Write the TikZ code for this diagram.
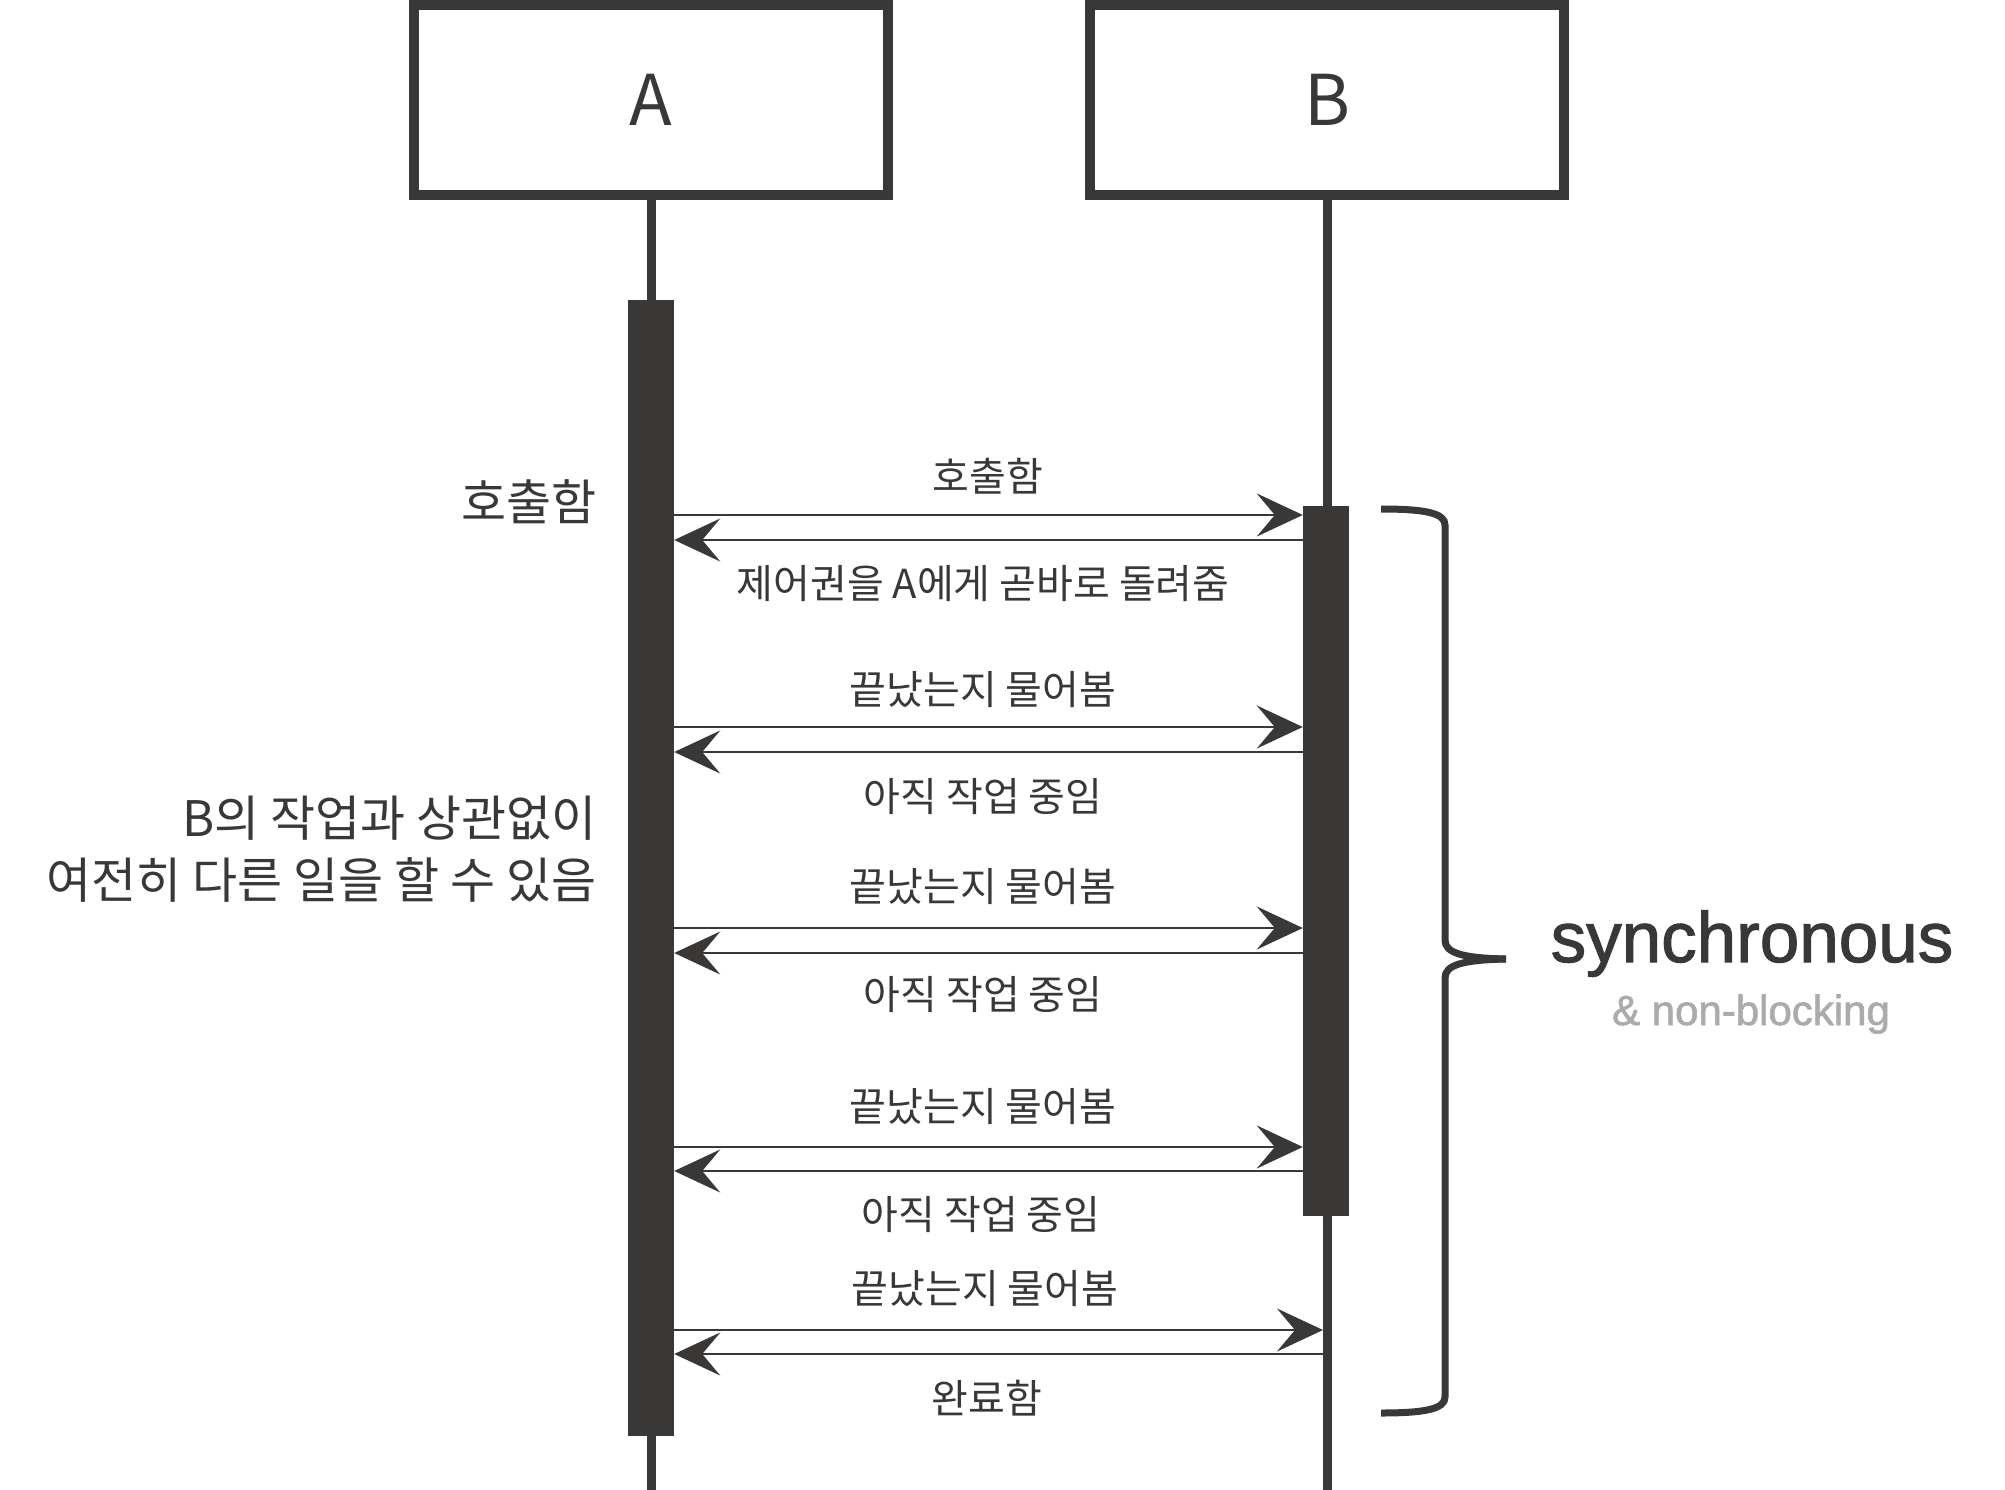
\documentclass[tikz,border=0pt]{standalone}
\usepackage{fontspec}
\setmainfont{Noto Sans CJK KR}
\newfontfamily\latinfont{Liberation Sans}[FakeBold=1.6]
\usetikzlibrary{arrows.meta}
\definecolor{ink}{RGB}{58,56,54}
\definecolor{soft}{RGB}{172,170,170}
\begin{document}
\begin{tikzpicture}[x=1pt,y=-1pt,
  actor/.style={draw=ink, line width=10pt, minimum width=474pt, minimum height=190pt, inner sep=0pt, text=ink, font=\fontsize{70}{80}\selectfont},
  life/.style={draw=ink, line width=9pt},
  bar/.style={fill=ink, draw=none, minimum width=46pt, inner sep=0pt},
  msg/.style={draw=ink, line width=2.5pt, -{Stealth[length=46pt,width=43pt,inset=18pt]}},
  lbl/.style={text=ink, inner sep=0pt, font=\fontsize{40}{46}\selectfont},
  side/.style={text=ink, inner sep=0pt, align=right, anchor=east, font=\fontsize{49}{62}\selectfont},
]
\useasboundingbox (0,0) rectangle (2005,1490);
% lifelines
\coordinate (Aend) at (651,1490);
\coordinate (Bend) at (1327,1490);
\node[actor] (A) at (651,100) {A};
\node[actor] (B) at (1327,100) {B};
\draw[life] (A.south) -- (Aend);
\draw[life] (B.south) -- (Bend);
% activation bars
\node[bar, minimum height=1136pt] (barA) at (651,868) {};
\node[bar, minimum height=710pt] (barB) at (1326,861) {};
% messages
\draw[msg] (barA.east |- 0,515) -- (barB.west |- 0,515);
\draw[msg] (barB.west |- 0,540) -- (barA.east |- 0,540);
\draw[msg] (barA.east |- 0,727) -- (barB.west |- 0,727);
\draw[msg] (barB.west |- 0,752) -- (barA.east |- 0,752);
\draw[msg] (barA.east |- 0,928) -- (barB.west |- 0,928);
\draw[msg] (barB.west |- 0,953) -- (barA.east |- 0,953);
\draw[msg] (barA.east |- 0,1147) -- (barB.west |- 0,1147);
\draw[msg] (barB.west |- 0,1171) -- (barA.east |- 0,1171);
\coordinate (Bl5) at (1323,1330);
\coordinate (Bl5r) at (1323,1354);
\draw[msg] (barA.east |- Bl5) -- (Bl5);
\draw[msg] (Bl5r) -- (barA.east |- Bl5r);
% labels
\node[lbl] (l1) at (988,476) {호출함};
\node[lbl] (l2) at (983,584) {제어권을 A에게 곧바로 돌려줌};
\node[lbl] (l3) at (983,690) {끝났는지 물어봄};
\node[lbl] (l4) at (983,797) {아직 작업 중임};
\node[lbl] (l5) at (983,887) {끝났는지 물어봄};
\node[lbl] (l6) at (983,995) {아직 작업 중임};
\node[lbl] (l7) at (983,1107) {끝났는지 물어봄};
\node[lbl] (l8) at (981,1215) {아직 작업 중임};
\node[lbl] (l9) at (985,1289) {끝났는지 물어봄};
\node[lbl] (l10) at (987,1398) {완료함};
\node[side] (s1) at (597,502) {호출함};
\node[side] (s2) at (597,849) {B의 작업과 상관없이\\여전히 다른 일을 할 수 있음};
% brace
\draw[ink, line width=7pt]
  (1381,509) .. controls (1425,509) and (1445,513) .. (1445,525)
  -- (1445,940) .. controls (1445,953) and (1462,958) .. (1506,959);
\draw[ink, line width=7pt]
  (1506,959) .. controls (1462,960) and (1445,965) .. (1445,978)
  -- (1445,1397) .. controls (1445,1409) and (1425,1413) .. (1381,1413);
\node[text=ink, inner sep=0pt, anchor=base, font=\latinfont\fontsize{71}{76}\selectfont] (sync) at (1752,962) {synchronous};
\node[text=soft, inner sep=0pt, anchor=base, font=\latinfont\fontsize{42}{48}\selectfont] (nb) at (1751,1025) {\& non-blocking};
\end{tikzpicture}
\end{document}
